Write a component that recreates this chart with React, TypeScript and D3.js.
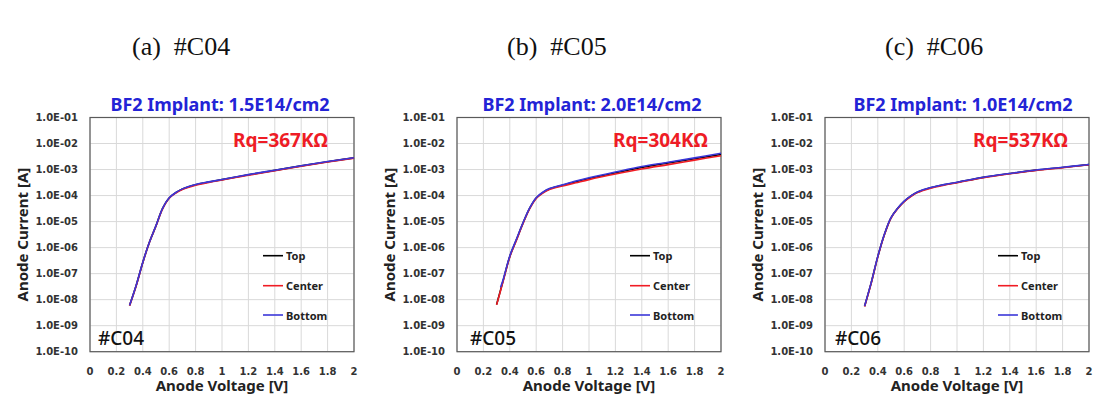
import React from "react";
import * as d3 from "d3";

// ---- data ----
const panelIds = ["C04", "C05", "C06"];
const headerLetters = ["(a)", "(b)", "(c)"];
const titles = ["BF2 Implant: 1.5E14/cm2", "BF2 Implant: 2.0E14/cm2", "BF2 Implant: 1.0E14/cm2"];
const rqLabels = ["Rq=367KΩ", "Rq=304KΩ", "Rq=537KΩ"];
const seriesNames = ["Top", "Center", "Bottom"];
const seriesColors = ["#000000", "#f01c24", "#3a36d8"];

const voltage = [0.3, 0.35, 0.4, 0.45, 0.5, 0.55, 0.6, 0.65, 0.7, 0.8, 0.9, 1.0, 1.2, 1.4, 1.6, 1.8, 2.0];
const voltageC05Bottom = [0.33, 0.35, 0.4, 0.45, 0.5, 0.55, 0.6, 0.65, 0.7, 0.8, 0.9, 1.0, 1.2, 1.4, 1.6, 1.8, 2.0];

const c04Top = [6.0e-9, 3.5e-8, 2.7e-7, 1.6e-6, 6.9e-6, 3.2e-5, 8.1e-5, 1.29e-4, 1.78e-4, 2.6e-4, 3.3e-4, 4.1e-4, 6.3e-4, 9.3e-4, 1.38e-3, 2.0e-3, 2.8e-3];
const c04Center = [5.9e-9, 3.4e-8, 2.65e-7, 1.58e-6, 6.8e-6, 3.1e-5, 7.9e-5, 1.25e-4, 1.72e-4, 2.5e-4, 3.2e-4, 3.95e-4, 6.1e-4, 9.0e-4, 1.34e-3, 1.95e-3, 2.75e-3];
const c04Bottom = [6.1e-9, 3.6e-8, 2.75e-7, 1.62e-6, 7.0e-6, 3.25e-5, 8.2e-5, 1.31e-4, 1.81e-4, 2.65e-4, 3.35e-4, 4.15e-4, 6.4e-4, 9.45e-4, 1.4e-3, 2.03e-3, 2.85e-3];

const c05Top = [6.5e-9, 5.5e-8, 4.6e-7, 2.0e-6, 8.7e-6, 3.2e-5, 8.0e-5, 1.3e-4, 1.8e-4, 2.5e-4, 3.4e-4, 4.5e-4, 7.5e-4, 1.2e-3, 1.8e-3, 2.6e-3, 3.8e-3];
const c05Center = [6.3e-9, 5.2e-8, 4.4e-7, 1.9e-6, 8.4e-6, 3.05e-5, 7.7e-5, 1.24e-4, 1.7e-4, 2.35e-4, 3.1e-4, 4.1e-4, 6.7e-4, 1.05e-3, 1.55e-3, 2.3e-3, 3.4e-3];
const c05Bottom = [3.0e-8, 6.0e-8, 4.8e-7, 2.1e-6, 9.0e-6, 3.3e-5, 8.3e-5, 1.34e-4, 1.86e-4, 2.6e-4, 3.6e-4, 4.8e-4, 8.0e-4, 1.3e-3, 1.9e-3, 2.8e-3, 4.2e-3];

const c06Top = [5.6e-9, 4.4e-8, 4.5e-7, 3.2e-6, 1.4e-5, 3.2e-5, 6.0e-5, 9.5e-5, 1.35e-4, 2.0e-4, 2.6e-4, 3.2e-4, 5.0e-4, 7.0e-4, 9.5e-4, 1.2e-3, 1.55e-3];
const c06Center = [5.5e-9, 4.3e-8, 4.4e-7, 3.1e-6, 1.37e-5, 3.1e-5, 5.8e-5, 9.2e-5, 1.3e-4, 1.93e-4, 2.5e-4, 3.1e-4, 4.85e-4, 6.85e-4, 9.3e-4, 1.18e-3, 1.52e-3];
const c06Bottom = [5.7e-9, 4.5e-8, 4.6e-7, 3.25e-6, 1.42e-5, 3.25e-5, 6.1e-5, 9.7e-5, 1.37e-4, 2.03e-4, 2.63e-4, 3.25e-4, 5.05e-4, 7.05e-4, 9.6e-4, 1.22e-3, 1.57e-3];

const panelSeries = [
  [
    { v: voltage, i: c04Top },
    { v: voltage, i: c04Center },
    { v: voltage, i: c04Bottom },
  ],
  [
    { v: voltage, i: c05Top },
    { v: voltage, i: c05Center },
    { v: voltageC05Bottom, i: c05Bottom },
  ],
  [
    { v: voltage, i: c06Top },
    { v: voltage, i: c06Center },
    { v: voltage, i: c06Bottom },
  ],
];

const xTicks = [0, 0.2, 0.4, 0.6, 0.8, 1, 1.2, 1.4, 1.6, 1.8, 2];
const yTicks = [1e-10, 1e-9, 1e-8, 1e-7, 1e-6, 1e-5, 1e-4, 1e-3, 1e-2, 1e-1];

// ---- layout ----
const W = 1115;
const H = 410;
const plotLefts = [90, 457, 825];
const plotW = 264;
const plotTop = 117.5;
const plotBottom = 351.7;
const headerX = [132, 507, 885];
const titleX = [220, 592, 963];
const rqRight = [328, 708, 1068];
const tagOffset = [8, 13, 10];

const fmtY = (d: number) => {
  const e = Math.round(Math.log10(d));
  const s = Math.abs(e).toString().padStart(2, "0");
  return `1.0E${e < 0 ? "-" : "+"}${s}`;
};
const fmtX = (d: number) => d3.format("~g")(d);

function Panel({ idx }: { idx: number }) {
  const left = plotLefts[idx];
  const right = left + plotW;
  const x = d3.scaleLinear().domain([0, 2]).range([left, right]);
  const y = d3.scaleLog().domain([1e-10, 1e-1]).range([plotBottom, plotTop]);
  const line = d3
    .line<[number, number]>()
    .x((d) => x(d[0]))
    .y((d) => y(d[1]))
    .curve(d3.curveCatmullRom.alpha(0.5));
  const sans = "'Noto Sans', 'DejaVu Sans', sans-serif";
  const tickFont = "'DejaVu Sans', sans-serif";
  const midY = (plotTop + plotBottom) / 2;
  const legendRows = [255.7, 285.7, 315];
  return (
    <g>
      <text
        x={headerX[idx]}
        y={55}
        style={{ whiteSpace: "pre" }}
        fontFamily="'Liberation Serif', 'DejaVu Serif', serif"
        fontSize={26}
        fill="#111"
      >
        {`${headerLetters[idx]}  #${panelIds[idx]}`}
      </text>
      {/* grid */}
      {xTicks.map((t) => (
        <line key={"gx" + t} x1={x(t)} x2={x(t)} y1={plotTop} y2={plotBottom} stroke="#d9d9d9" strokeWidth={1} />
      ))}
      {yTicks.map((t) => (
        <line key={"gy" + t} x1={left} x2={right} y1={y(t)} y2={y(t)} stroke="#d9d9d9" strokeWidth={1} />
      ))}
      <rect x={left} y={plotTop} width={plotW} height={plotBottom - plotTop} fill="none" stroke="#5a5a5a" strokeWidth={1.2} />
      {/* tick labels */}
      {yTicks.map((t) => (
        <text
          key={"ty" + t}
          x={left - 12}
          y={y(t)}
          textAnchor="end"
          dominantBaseline="central"
          fontFamily={tickFont}
          fontWeight="bold"
          fontSize={10}
          fill="#333"
        >
          {fmtY(t)}
        </text>
      ))}
      {xTicks.map((t) => (
        <text
          key={"tx" + t}
          x={x(t)}
          y={375}
          textAnchor="middle"
          fontFamily={tickFont}
          fontWeight="bold"
          fontSize={10}
          fill="#333"
        >
          {fmtX(t)}
        </text>
      ))}
      {/* axis titles */}
      <text
        x={(left + right) / 2}
        y={391}
        textAnchor="middle"
        fontFamily={sans}
        fontWeight="bold"
        fontSize={15}
        fill="#222"
      >
        Anode Voltage [V]
      </text>
      <text
        transform={`translate(${left - 68},${midY}) rotate(-90)`}
        textAnchor="middle"
        dominantBaseline="central"
        fontFamily={sans}
        fontWeight="bold"
        fontSize={15}
        fill="#222"
      >
        Anode Current [A]
      </text>
      {/* title */}
      <text x={titleX[idx]} y={111} textAnchor="middle" fontFamily={sans} fontWeight="bold" fontSize={18} fill="#2323d6">
        {titles[idx]}
      </text>
      <text x={rqRight[idx]} y={146.5} textAnchor="end" fontFamily={sans} fontWeight="bold" fontSize={19} fill="#ee1c25">
        {rqLabels[idx]}
      </text>
      {/* curves */}
      {panelSeries[idx].map((s, k) => (
        <path
          key={"c" + k}
          d={line(s.v.map((v, j) => [v, s.i[j]] as [number, number])) || ""}
          fill="none"
          stroke={seriesColors[k]}
          strokeWidth={1.6}
        />
      ))}
      {/* legend */}
      {seriesNames.map((n, k) => (
        <g key={"lg" + k}>
          <line x1={right - 91} x2={right - 71} y1={legendRows[k]} y2={legendRows[k]} stroke={seriesColors[k]} strokeWidth={1.6} />
          <text x={right - 68} y={legendRows[k]} dominantBaseline="central" fontFamily={sans} fontWeight="bold" fontSize={11} fill="#222">
            {n}
          </text>
        </g>
      ))}
      <text x={left + tagOffset[idx]} y={345} fontFamily={sans} fontWeight={500} fontSize={19} fill="#111">
        {"#" + panelIds[idx]}
      </text>
    </g>
  );
}

export default function App() {
  return (
    <svg
      width={W}
      height={H}
      viewBox={`0 0 ${W} ${H}`}
      style={{ position: "absolute", left: 0, top: 0, background: "#fff" }}
    >
      <rect x={0} y={0} width={W} height={H} fill="#fff" />
      {panelIds.map((_, i) => (
        <Panel key={i} idx={i} />
      ))}
    </svg>
  );
}
